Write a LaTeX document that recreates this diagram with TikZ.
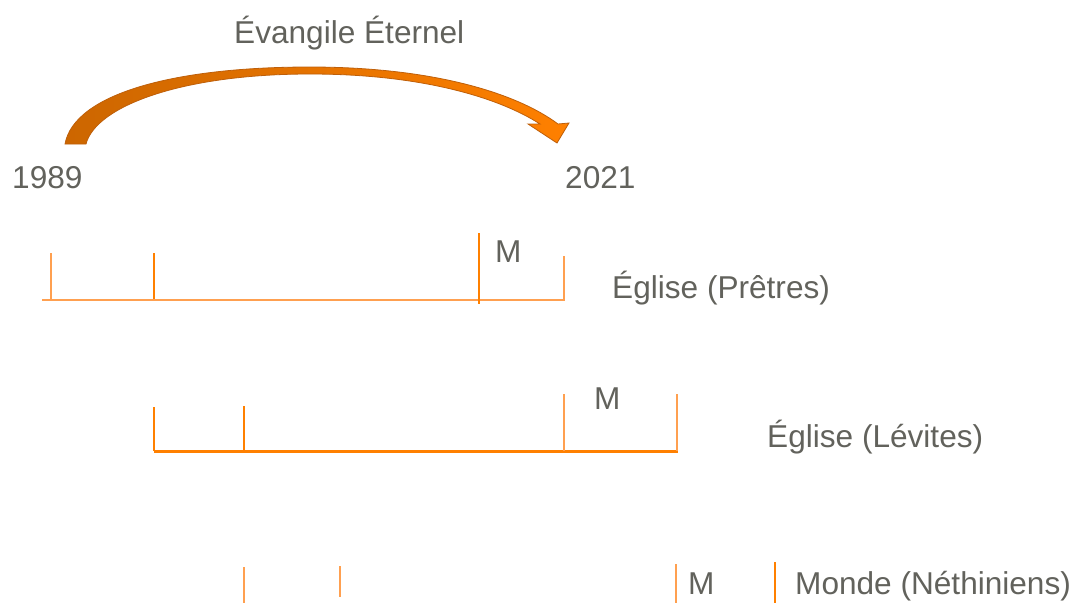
\documentclass[tikz,border=0pt]{standalone}
\usepackage{fontspec}
\setmainfont{Liberation Sans}
\usetikzlibrary{arrows}
\definecolor{textgray}{RGB}{98,98,92}
\definecolor{lightorange}{RGB}{255,160,80}
\definecolor{brightorange}{RGB}{255,128,0}
\definecolor{darkorange}{RGB}{204,102,0}
\definecolor{edgeorange}{RGB}{190,95,10}

\begin{document}
\begin{tikzpicture}[x=1pt,y=-1pt,
		label/.style={inner sep=0pt, anchor=base west, text=textgray, font=\fontsize{31.6}{38}\selectfont}]
		\newcommand\timetick[4]{ %% argument 1: colour, argument 2: x-position, argument 3: top, argument 4: bottom
			\draw[#1, line width=1.3pt] (#2,#3) -- (#2,#4);
		}
		
		\useasboundingbox (0,0) rectangle (1088,603);
		
		%% curved arrow
		\path[draw=edgeorange, line width=0.8pt, left color=darkorange, middle color=darkorange!92!brightorange, right color=brightorange]
			(65,144) .. controls (74,95) and (170,67) .. (310,67)
			.. controls (430,67) and (515,92) .. (558,124)
			-- (569,123) -- (557,143) -- (528,124) -- (540,124)
			.. controls (498,97) and (420,74) .. (310,74)
			.. controls (182,74) and (96,106) .. (86,144) -- cycle;
		
		\node[label] (gospel) at (234,43) {Évangile Éternel};
		\node[label] (start) at (12,188) {1989};
		\node[label] (end) at (565,188) {2021};
		
		%% Eglise (Pretres)
		\draw[lightorange, line width=2pt] (42,300) -- (565,300);
		\timetick{lightorange}{51}{253}{300}
		\timetick{brightorange}{154}{253}{299}
		\timetick{brightorange}{479}{233}{304}
		\timetick{lightorange}{564}{256}{300}
		\node[label] (m1) at (495,262) {M};
		\node[label] (priests) at (612,298) {Église (Prêtres)};
		
		%% Eglise (Levites)
		\draw[brightorange, line width=3pt] (154,451) -- (678,451);
		\timetick{brightorange}{154}{407}{451}
		\timetick{brightorange}{244}{406}{451}
		\timetick{lightorange}{564}{394}{451}
		\timetick{lightorange}{677}{394}{451}
		\node[label] (m2) at (594,409) {M};
		\node[label] (levites) at (767,447) {Église (Lévites)};
		
		%% Monde (Nethiniens)
		\timetick{lightorange}{244}{567}{603}
		\timetick{lightorange}{340}{566}{597}
		\timetick{lightorange}{676}{564}{603}
		\timetick{brightorange}{775}{562}{603}
		\node[label] (m3) at (688,594) {M};
		\node[label] (world) at (795,594) {Monde (Néthiniens)};
	\end{tikzpicture}
\end{document}
